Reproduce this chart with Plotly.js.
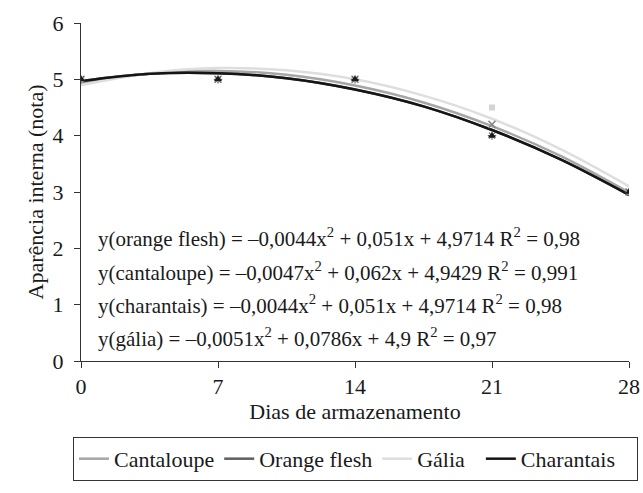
<!DOCTYPE html>
<html>
<head>
<meta charset="utf-8">
<script src="https://cdn.plot.ly/plotly-3.0.1.min.js"></script>
<style>html,body{margin:0;padding:0;background:#fff;}#chart{width:643px;height:493px;}</style>
</head>
<body>
<div id="chart"></div>
<script>
// Observed data (days of storage vs internal appearance score)
const days = [0, 7, 14, 21, 28];
const cantaloupe = [5, 5, 5, 4.2, 3];
const orangeFlesh = [5, 5, 5, 4, 3];
const galia = [5, 5, 5, 4.5, 3];
const charantais = [5, 5, 5, 4, 3];

// Trend curves
const trendDays = [0, 3.5, 7, 10.5, 14, 17.5, 21, 24.5, 28];
const trendCantaloupe = [4.94, 5.10, 5.15, 5.08, 4.89, 4.59, 4.17, 3.64, 2.99];
const trendOrangeFlesh = [4.97, 5.10, 5.11, 5.02, 4.82, 4.52, 4.10, 3.58, 2.95];
const trendGalia = [4.90, 5.11, 5.20, 5.16, 5.00, 4.71, 4.30, 3.76, 3.10];
const trendCharantais = [4.97, 5.10, 5.11, 5.02, 4.82, 4.52, 4.10, 3.58, 2.95];

const seriesNames = ['Cantaloupe', 'Orange flesh', 'Gália', 'Charantais'];
const xTicks = [0, 7, 14, 21, 28];
const yTicks = [0, 1, 2, 3, 4, 5, 6];

const equations = [
  'y(orange flesh) = –0,0044x<sup>2</sup> + 0,051x + 4,9714 R<sup>2</sup> = 0,98',
  'y(cantaloupe) = –0,0047x<sup>2</sup> + 0,062x + 4,9429 R<sup>2</sup> = 0,991',
  'y(charantais) = –0,0044x<sup>2</sup> + 0,051x + 4,9714 R<sup>2</sup> = 0,98',
  'y(gália) = –0,0051x<sup>2</sup> + 0,0786x + 4,9 R<sup>2</sup> = 0,97'
];

const FONT = "'Liberation Serif', 'Times New Roman', serif";
const TXT = '#1a1a1a';
const colors = ['#a6a6a6', '#5f5f5f', '#dedede', '#151515'];
const NB = '\u00a0';
// legend labels padded with non-breaking spaces to reproduce the reference spacing
const legendLabels = [seriesNames[0], seriesNames[1], seriesNames[2] + NB + NB, seriesNames[3] + NB + NB + NB];

const traces = [
  {x: trendDays, y: trendCantaloupe, mode: 'lines', line: {color: colors[0], width: 2.5, shape: 'spline'}, name: legendLabels[0]},
  {x: trendDays, y: trendOrangeFlesh, mode: 'lines', line: {color: colors[1], width: 2.5, shape: 'spline'}, name: legendLabels[1]},
  {x: trendDays, y: trendGalia, mode: 'lines', line: {color: colors[2], width: 2.5, shape: 'spline'}, name: legendLabels[2]},
  {x: trendDays, y: trendCharantais, mode: 'lines', line: {color: colors[3], width: 2.5, shape: 'spline'}, name: legendLabels[3]},
  {x: days, y: galia, mode: 'markers', showlegend: false, marker: {symbol: 'square', size: 6, color: '#d4d4d4'}},
  {x: days, y: cantaloupe, mode: 'markers', showlegend: false, marker: {symbol: 'x-thin-open', size: 7, color: '#8a8a8a', line: {width: 1.5, color: '#8a8a8a'}}},
  {x: days, y: orangeFlesh, mode: 'markers', showlegend: false, marker: {symbol: 'asterisk-open', size: 7, color: '#6a6a6a', line: {width: 1.2, color: '#6a6a6a'}}},
  {x: days, y: charantais, mode: 'markers', showlegend: false, marker: {symbol: 'triangle-up', size: 7, color: '#1a1a1a'}}
];

const eqY = [0.3644, 0.2653, 0.1662, 0.070];
const annotations = equations.map((t, i) => ({
  text: t, xref: 'paper', yref: 'paper', x: 0.027, y: eqY[i],
  xanchor: 'left', yanchor: 'middle', showarrow: false,
  font: {family: FONT, size: 21, color: TXT}
}));

const layout = {
  width: 643, height: 493,
  margin: {l: 81, r: 14, t: 23, b: 127},
  paper_bgcolor: '#fff', plot_bgcolor: '#fff',
  font: {family: FONT, size: 22, color: TXT},
  showlegend: true,
  legend: {
    orientation: 'h', x: -0.0146, xanchor: 'left', y: -0.2245, yanchor: 'top',
    bordercolor: '#333', borderwidth: 1, itemwidth: 30,
    font: {family: FONT, size: 22, color: TXT}, traceorder: 'normal'
  },
  xaxis: {
    range: [0, 28], tickvals: xTicks, ticktext: xTicks.map(String),
    showgrid: false, zeroline: false, showline: true, linecolor: '#333', linewidth: 1,
    ticks: 'outside', ticklen: 6, tickcolor: '#333',
    tickfont: {family: FONT, size: 22, color: TXT},
    title: {text: 'Dias de armazenamento', font: {family: FONT, size: 22, color: TXT}, standoff: 0}
  },
  yaxis: {
    range: [0, 6], tickvals: yTicks, ticktext: yTicks.map(String),
    showgrid: false, zeroline: false, showline: true, linecolor: '#333', linewidth: 1,
    ticks: 'outside', ticklen: 6, tickcolor: '#333', ticklabelstandoff: 6,
    tickfont: {family: FONT, size: 22, color: TXT},
    title: {text: 'Aparência interna (nota)', font: {family: FONT, size: 22, color: TXT}, standoff: 2}
  },
  annotations: annotations
};

Plotly.newPlot('chart', traces, layout, {displayModeBar: false, staticPlot: true});
</script>
</body>
</html>
